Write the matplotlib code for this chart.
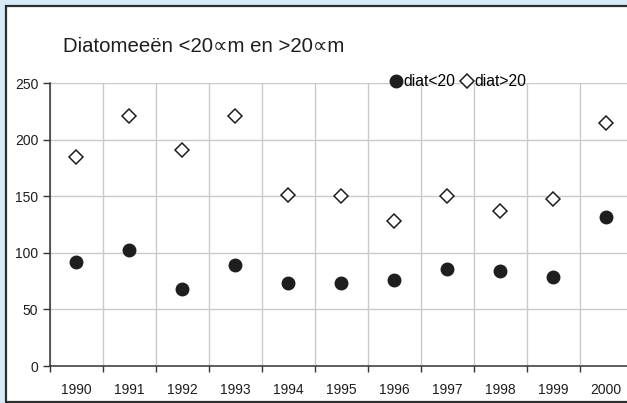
import matplotlib
matplotlib.use("Agg")
import matplotlib.pyplot as plt
from matplotlib.patches import Rectangle
from matplotlib.ticker import FixedLocator, NullFormatter

plt.rcParams['font.family'] = ['Liberation Sans', 'DejaVu Sans']

years = ['1990', '1991', '1992', '1993', '1994', '1995', '1996', '1997', '1998', '1999', '2000']
diat_small = [92, 103, 68, 89, 73, 73, 76, 86, 84, 79, 132]
diat_large = [185, 221, 191, 221, 151, 150, 128, 150, 137, 148, 215]
yticks = [0, 50, 100, 150, 200, 250]

W, H = 627, 403
fig = plt.figure(figsize=(W / 100, H / 100), dpi=100)
fig.patch.set_facecolor('#d6ebf5')

# white chart panel with dark frame
panel = Rectangle((6 / W, 1.5 / H), 1.2, (401.5 - 5.5) / H,
                  transform=fig.transFigure, facecolor='white',
                  edgecolor='#2e2e2e', lw=1.6, zorder=-10)
fig.patches.append(panel)

left, right = 49.5, 49.5 + 11 * 53.0
top, bottom = 83.3, 366.0
ax = fig.add_axes([left / W, (H - bottom) / H, (right - left) / W, (bottom - top) / H])
ax.set_facecolor('white')

x = list(range(len(years)))
ax.plot(x, diat_small, linestyle='none', marker='o', markersize=9,
        color='#1e1e1e', label='diat<20', zorder=3, clip_on=False)
ax.plot(x, diat_large, linestyle='none', marker='D', markersize=7.5,
        markerfacecolor='white', markeredgecolor='#1e1e1e', markeredgewidth=1.1,
        label='diat>20', zorder=3, clip_on=False)

ax.set_xlim(-0.5, len(years) - 0.5)
ax.set_ylim(0, 250)

ax.set_xticks(x)
ax.set_xticklabels(years)
ax.xaxis.set_minor_locator(FixedLocator([i + 0.5 for i in range(-1, len(years))]))
ax.xaxis.set_minor_formatter(NullFormatter())
ax.tick_params(axis='x', which='major', length=0, pad=12, labelsize=10, labelcolor='#1e1e1e')
ax.tick_params(axis='x', which='minor', length=4, width=1, color='#333333', direction='out')

ax.set_yticks(yticks)
ax.tick_params(axis='y', length=5, width=1, color='#333333', direction='out',
               labelsize=10, labelcolor='#1e1e1e', pad=3)

ax.grid(True, axis='y', which='major', color='#cacaca', lw=1)
ax.grid(True, axis='x', which='minor', color='#cacaca', lw=1)
ax.grid(False, axis='x', which='major')
ax.set_axisbelow(True)

for s in ['top', 'right']:
    ax.spines[s].set_visible(False)
for s in ['left', 'bottom']:
    ax.spines[s].set_color('#333333')
    ax.spines[s].set_linewidth(1.1)

fig.text(63 / W, (H - 47) / H, 'Diatomeeën <20∝m en >20∝m', ha='left', va='center',
         fontsize=14.7, color='#1e1e1e')

ax.legend(loc='center', bbox_to_anchor=(459 / W, (H - 82) / H),
          bbox_transform=fig.transFigure, ncol=2, frameon=False, fontsize=11.3,
          handlelength=0.6, handletextpad=0.15, columnspacing=0.45,
          borderpad=0, borderaxespad=0)

fig.savefig('out.png', dpi=100, facecolor=fig.get_facecolor())
